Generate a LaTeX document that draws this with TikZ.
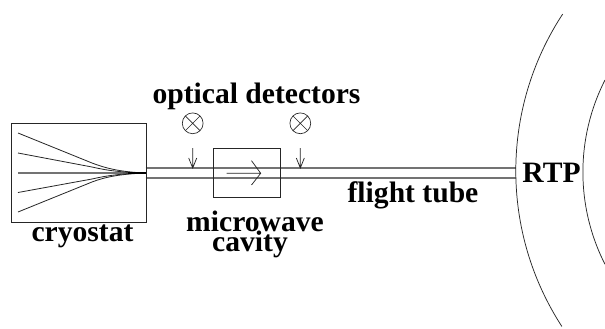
\documentclass[tikz,border=0pt]{standalone}
\usepackage{fontspec}
\setmainfont{Liberation Serif}
\usetikzlibrary{calc}
\tikzset{
  thinline/.style={draw=black!85,line width=0.55pt},
  tubeline/.style={draw=black!55,line width=1.1pt},
  fibre/.style={draw=black!85,line width=0.6pt},
  detector/.style={circle,draw=black!85,line width=0.5pt,minimum size=15.6pt,inner sep=0pt,path picture={
    \draw[black!85,line width=0.5pt] (path picture bounding box.south west)--(path picture bounding box.north east)
      (path picture bounding box.north west)--(path picture bounding box.south east);}},
  lab/.style={font=\bfseries\fontsize{22.2}{23}\selectfont,inner sep=0pt,text=black,anchor=base},
  blockbox/.style={draw=black!85,line width=0.6pt,inner sep=0pt,anchor=north west}
}
\begin{document}
\begin{tikzpicture}[x=0.75pt,y=-0.75pt]
\useasboundingbox (0,0) rectangle (605,328);
\fill[white] (0,0) rectangle (605,328);
% tube
\coordinate (t1a) at (145.5,168); \coordinate (t1b) at (515.5,168);
\coordinate (t2a) at (145.5,178); \coordinate (t2b) at (515.5,178);
\draw[tubeline] (t1a)--(t1b);
\draw[tubeline] (t2a)--(t2b);
% cryostat
\node[blockbox,minimum width=100.9pt,minimum height=74.2pt] (cryo) at (11,123.3) {};
\coordinate (f0) at (145.5,173);
\draw[tubeline] (18,173)--(f0);
\draw[fibre] (18,133) -- (92,163) .. controls (105,168) and (120,172) .. (f0);
\draw[fibre] (18,153) -- (92,167) .. controls (105,170) and (120,172.5) .. (f0);
\draw[fibre] (18,192.5) -- (92,179) .. controls (105,176) and (120,173.5) .. (f0);
\draw[fibre] (18,212) -- (92,182) .. controls (105,177) and (120,174) .. (f0);
\draw[line width=1.3pt] (128,173)--(f0);
% cavity
\node[blockbox,minimum width=50.7pt,minimum height=36.8pt] (cav) at (212.7,148.3) {};
\coordinate (a0) at (226.7,173.3); \coordinate (a1) at (260.7,173.3);
\draw[thinline] (a0)--(a1) (251.5,160.7)--(a1)--(251.5,185);
% detectors
\node[detector] (d1) at (192.7,123.3) {};
\node[detector] (d2) at (300.3,123.3) {};
\coordinate (p1) at (192.7,148); \coordinate (q1) at (192.7,168);
\coordinate (p2) at (300.3,148); \coordinate (q2) at (300.3,168);
\draw[thinline] (p1)--(q1) (188.7,158)--(q1)--(196.7,158);
\draw[thinline] (p2)--(q2) (296.3,158)--(q2)--(304.3,158);
% arcs
\draw[thinline] (562.7,14) arc[start angle=213.3,end angle=147,radius=285.7];
\draw[thinline] (605,80) arc[start angle=207,end angle=153,radius=203];
% labels
\node[lab] (l1) at (256.5,103) {optical detectors};
\node[lab] (l2) at (82.5,241.7) {cryostat};
\node[lab] (l3) at (255,231.7) {microwave};
\node[lab] (l4) at (250,251.7) {cavity};
\node[lab] (l5) at (413,202.7) {flight tube};
\node[lab] (l6) at (551.5,182.3) {RTP};
\end{tikzpicture}
\end{document}
